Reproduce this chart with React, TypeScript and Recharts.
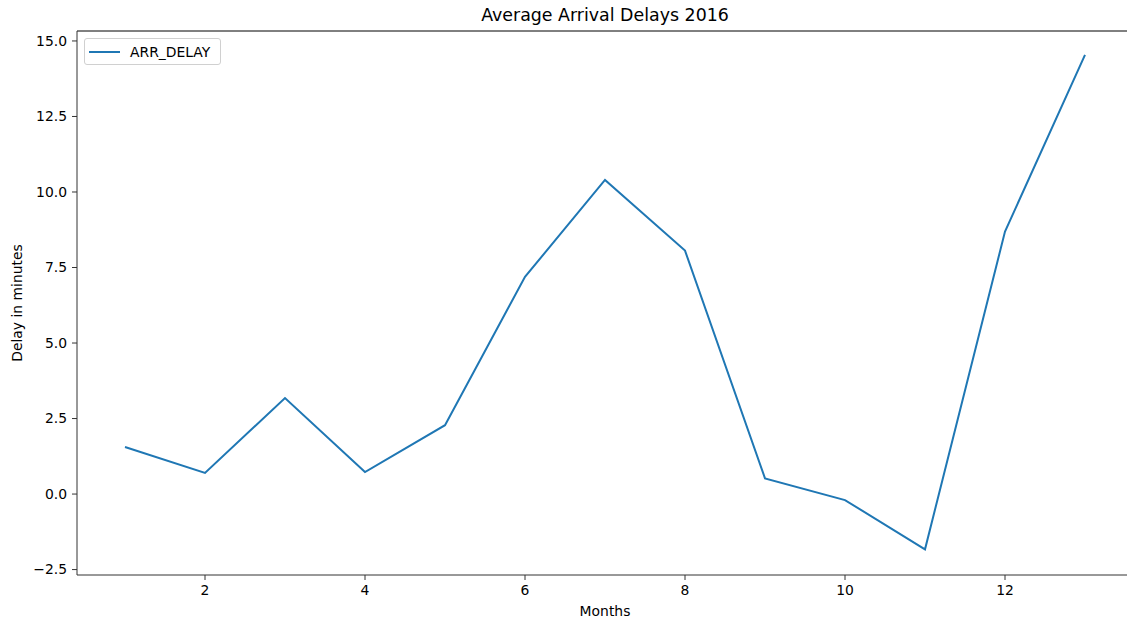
import React from 'react';
import { LineChart, Line, XAxis, YAxis, ReferenceLine, Label } from 'recharts';

const months = [1, 2, 3, 4, 5, 6, 7, 8, 9, 10, 11, 12, 13];
const arrDelay = [1.56, 0.7, 3.18, 0.73, 2.28, 7.19, 10.4, 8.06, 0.52, -0.2, -1.83, 8.69, 14.54];
const xTicks = [2, 4, 6, 8, 10, 12];
const yTicks = [-2.5, 0, 2.5, 5, 7.5, 10, 12.5, 15];
const xDomain = [0.4, 13.6];
const yDomain = [-2.68, 15.33];
const seriesName = 'ARR_DELAY';
const title = 'Average Arrival Delays 2016';
const xLabel = 'Months';
const yLabel = 'Delay in minutes';

const data = months.map((m, i) => ({ month: m, [seriesName]: arrDelay[i] }));

const FONT = '"DejaVu Sans", sans-serif';
const AXIS = '#333';

const fmtY = (v: number) => (v < 0 ? '\u2212' + Math.abs(v).toFixed(1) : v.toFixed(1));

const LegendBox = () => (
  <div
    style={{
      position: 'absolute',
      left: 84,
      top: 38,
      width: 137,
      height: 27,
      border: '1px solid #d0d0d0',
      borderRadius: 3,
      background: 'rgba(255,255,255,0.8)',
      display: 'flex',
      alignItems: 'center',
      fontFamily: FONT,
      fontSize: 13.9,
      color: '#000',
      boxSizing: 'border-box',
    }}
  >
    <svg width={42} height={10} style={{ marginLeft: 3 }}>
      <line x1={1} y1={5} x2={32} y2={5} stroke="#1f77b4" strokeWidth={2} />
    </svg>
    <span>{seriesName}</span>
  </div>
);

export default function App() {
  return (
    <div
      style={{
        position: 'absolute',
        left: 0,
        top: 0,
        width: 1127,
        height: 620,
        overflow: 'hidden',
        background: '#fff',
      }}
    >
      <div
        style={{
          position: 'absolute',
          left: 305,
          width: 600,
          top: 5,
          textAlign: 'center',
          fontFamily: FONT,
          fontSize: 17.4,
          color: '#000',
          lineHeight: '20px',
        }}
      >
        {title}
      </div>
      <LineChart
        width={1140}
        height={620}
        data={data}
        margin={{ top: 31, right: 7, bottom: 0, left: 0 }}
      >
        <XAxis
          dataKey="month"
          type="number"
          domain={xDomain}
          ticks={xTicks}
          allowDataOverflow
          height={45}
          tickSize={5}
          tickMargin={5}
          stroke={AXIS}
          tick={{ fill: '#000', fontFamily: FONT, fontSize: 13.9 }}
        >
          <Label
            value={xLabel}
            position="insideBottom"
            offset={4}
            style={{ fill: '#000', fontFamily: FONT, fontSize: 13.9 }}
          />
        </XAxis>
        <YAxis
          type="number"
          domain={yDomain}
          ticks={yTicks}
          allowDataOverflow
          width={77}
          tickSize={5}
          tickMargin={5}
          stroke={AXIS}
          tickFormatter={fmtY}
          tick={{ fill: '#000', fontFamily: FONT, fontSize: 13.9 }}
        >
          <Label
            content={() => (
              <text
                x={17}
                y={303}
                transform="rotate(-90 17 303)"
                textAnchor="middle"
                dominantBaseline="central"
                fill="#000"
                fontFamily={FONT}
                fontSize={13.9}
              >
                {yLabel}
              </text>
            )}
          />
        </YAxis>
        <ReferenceLine y={yDomain[1]} stroke="#000" strokeWidth={1} ifOverflow="visible" />
        <Line
          type="linear"
          dataKey={seriesName}
          stroke="#1f77b4"
          strokeWidth={2}
          dot={false}
          activeDot={false}
          isAnimationActive={false}
        />
      </LineChart>
      <LegendBox />
    </div>
  );
}
